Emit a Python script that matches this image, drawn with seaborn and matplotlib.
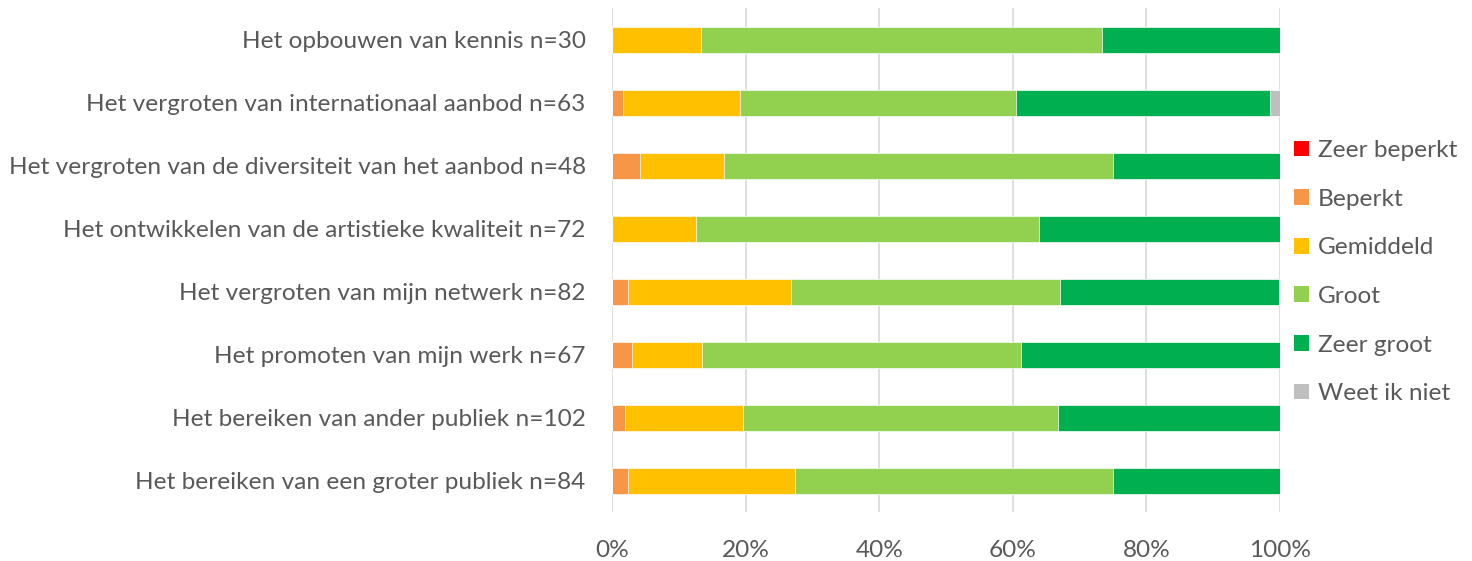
import numpy as np
import pandas as pd
import matplotlib
matplotlib.use("Agg")
import matplotlib.pyplot as plt
import seaborn as sns
from matplotlib.patches import Patch
from matplotlib.ticker import PercentFormatter

categories = [
    "Het opbouwen van kennis n=30",
    "Het vergroten van internationaal aanbod n=63",
    "Het vergroten van de diversiteit van het aanbod n=48",
    "Het ontwikkelen van de artistieke kwaliteit n=72",
    "Het vergroten van mijn netwerk n=82",
    "Het promoten van mijn werk n=67",
    "Het bereiken van ander publiek n=102",
    "Het bereiken van een groter publiek n=84",
]

# percentages per answer
zeer_beperkt = [0.0, 0.0, 0.0, 0.0, 0.0, 0.0, 0.0, 0.0]
beperkt = [0.0, 1.6, 4.2, 0.0, 2.4, 3.0, 2.0, 2.4]
gemiddeld = [13.3, 17.5, 12.5, 12.5, 24.4, 10.4, 17.6, 25.0]
groot = [60.0, 41.3, 58.3, 51.4, 40.2, 47.8, 47.1, 47.6]
zeer_groot = [26.7, 38.1, 25.0, 36.1, 32.9, 38.8, 33.3, 25.0]
weet_niet = [0.0, 1.6, 0.0, 0.0, 0.0, 0.0, 0.0, 0.0]

series = ["Zeer beperkt", "Beperkt", "Gemiddeld", "Groot", "Zeer groot", "Weet ik niet"]
colors = ["#FF0000", "#F79646", "#FFC000", "#92D050", "#00B050", "#BFBFBF"]

df = pd.DataFrame({
    "Vraag": categories,
    "Zeer beperkt": zeer_beperkt,
    "Beperkt": beperkt,
    "Gemiddeld": gemiddeld,
    "Groot": groot,
    "Zeer groot": zeer_groot,
    "Weet ik niet": weet_niet,
})

cum = df[series].cumsum(axis=1)
cum["Vraag"] = df["Vraag"]

sns.set_style("white")
plt.rcParams["font.family"] = ["Lato", "DejaVu Sans"]
text_color = "#595959"
fs = 17.6

fig = plt.figure(figsize=(14.72, 5.61), dpi=100)
ax = fig.add_axes([0.4158, 0.0865, 0.4538, 0.8985])

# draw from the back: the largest cumulative total first
for name, color in reversed(list(zip(series, colors))):
    sns.barplot(data=cum, x=name, y="Vraag", orient="h", color=color,
                saturation=1, width=0.4, edgecolor="#FFFFFF", linewidth=0.5,
                ax=ax, zorder=3)

ax.set_xlim(0, 100)
ax.set_ylim(len(categories) - 0.5, -0.5)
ax.xaxis.set_major_formatter(PercentFormatter(decimals=0))
ax.set_xticks(np.arange(0, 101, 20))
ax.grid(axis="x", color="#D9D9D9", linewidth=1.2, zorder=0)
ax.set_axisbelow(True)
for s in ax.spines.values():
    s.set_visible(False)
ax.set_xlabel("")
ax.set_ylabel("")
ax.tick_params(axis="both", length=0, labelsize=fs, colors=text_color)
ax.tick_params(axis="x", pad=20)
ax.tick_params(axis="y", pad=19)

handles = [Patch(facecolor=c, edgecolor="none") for c in colors]
leg = fig.legend(handles, series, loc="center left", bbox_to_anchor=(0.879, 0.515),
                 frameon=False, fontsize=fs, labelcolor=text_color,
                 handlelength=0.62, handleheight=0.62, handletextpad=0.35,
                 labelspacing=1.13, borderpad=0, borderaxespad=0)

fig.savefig("out.png", dpi=100)
